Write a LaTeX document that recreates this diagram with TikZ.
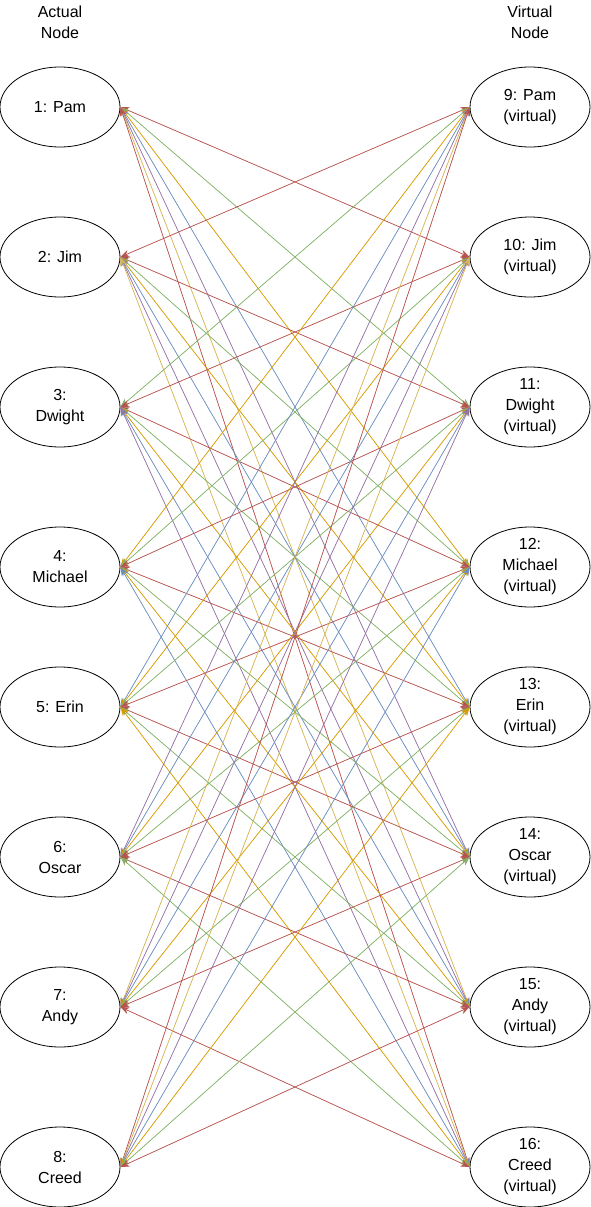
\documentclass[tikz,border=0pt]{standalone}
\usepackage{fontspec}
\setmainfont{Liberation Sans}
\usetikzlibrary{arrows.meta,shapes.geometric}
\definecolor{dred}{HTML}{B85450}
\definecolor{dgreen}{HTML}{82B366}
\definecolor{dorange}{HTML}{D79B00}
\definecolor{dblue}{HTML}{6C8EBF}
\definecolor{dpurple}{HTML}{9673A6}
\definecolor{dyellow}{HTML}{D6B656}
\tikzset{
    person/.style={ellipse, draw, line width=0.8pt, minimum width=120pt, minimum height=80pt,
        inner sep=0pt, align=center, font=\fontsize{16}{21}\selectfont},
    head/.style={align=center, font=\fontsize{16}{21}\selectfont},
    link/.style={line width=0.7pt, {Stealth[length=9pt,width=7pt]}-{Stealth[length=9pt,width=7pt]}},
    hop1/.style={link, draw=dred, fill=dred},
    hop2/.style={link, draw=dgreen, fill=dgreen},
    hop3/.style={link, draw=dorange, fill=dorange},
    hop4/.style={link, draw=dblue, fill=dblue},
    hop5/.style={link, draw=dpurple, fill=dpurple},
    hop6/.style={link, draw=dyellow, fill=dyellow},
    hop7/.style={link, draw=dred, fill=dred}
}
\begin{document}
\begin{tikzpicture}[x=1pt, y=-1pt]
        \useasboundingbox (0,0) rectangle (591,1207);
        \node[head](HL) at (60,22) {Actual\\Node};
        \node[head](HR) at (530,22) {Virtual\\Node};
        % actual nodes
        \node[person](L1) at (60,107)  {1: Pam};
        \node[person](L2) at (60,257)  {2: Jim};
        \node[person](L3) at (60,407)  {3:\\Dwight};
        \node[person](L4) at (60,567)  {4:\\Michael};
        \node[person](L5) at (60,707)  {5: Erin};
        \node[person](L6) at (60,857)  {6:\\Oscar};
        \node[person](L7) at (60,1007) {7:\\Andy};
        \node[person](L8) at (60,1167) {8:\\Creed};
        % virtual nodes
        \node[person](R9)  at (530,107)  {9: Pam\\(virtual)};
        \node[person](R10) at (530,257)  {10: Jim\\(virtual)};
        \node[person](R11) at (530,407)  {11:\\Dwight\\(virtual)};
        \node[person](R12) at (530,567)  {12:\\Michael\\(virtual)};
        \node[person](R13) at (530,707)  {13:\\Erin\\(virtual)};
        \node[person](R14) at (530,857)  {14:\\Oscar\\(virtual)};
        \node[person](R15) at (530,1007) {15:\\Andy\\(virtual)};
        \node[person](R16) at (530,1167) {16:\\Creed\\(virtual)};
        \path
            (L1.east)
                edge [hop1] (R10.west)
                edge [hop2] (R11.west)
                edge [hop3] (R12.west)
                edge [hop4] (R13.west)
                edge [hop5] (R14.west)
                edge [hop6] (R15.west)
                edge [hop7] (R16.west)
            (L2.east)
                edge [hop1] (R9.west)
                edge [hop1] (R11.west)
                edge [hop2] (R12.west)
                edge [hop3] (R13.west)
                edge [hop4] (R14.west)
                edge [hop5] (R15.west)
                edge [hop6] (R16.west)
            (L3.east)
                edge [hop2] (R9.west)
                edge [hop1] (R10.west)
                edge [hop1] (R12.west)
                edge [hop2] (R13.west)
                edge [hop3] (R14.west)
                edge [hop4] (R15.west)
                edge [hop5] (R16.west)
            (L4.east)
                edge [hop3] (R9.west)
                edge [hop2] (R10.west)
                edge [hop1] (R11.west)
                edge [hop1] (R13.west)
                edge [hop2] (R14.west)
                edge [hop3] (R15.west)
                edge [hop4] (R16.west)
            (L5.east)
                edge [hop4] (R9.west)
                edge [hop3] (R10.west)
                edge [hop2] (R11.west)
                edge [hop1] (R12.west)
                edge [hop1] (R14.west)
                edge [hop2] (R15.west)
                edge [hop3] (R16.west)
            (L6.east)
                edge [hop5] (R9.west)
                edge [hop4] (R10.west)
                edge [hop3] (R11.west)
                edge [hop2] (R12.west)
                edge [hop1] (R13.west)
                edge [hop1] (R15.west)
                edge [hop2] (R16.west)
            (L7.east)
                edge [hop6] (R9.west)
                edge [hop5] (R10.west)
                edge [hop4] (R11.west)
                edge [hop3] (R12.west)
                edge [hop2] (R13.west)
                edge [hop1] (R14.west)
                edge [hop1] (R16.west)
            (L8.east)
                edge [hop7] (R9.west)
                edge [hop6] (R10.west)
                edge [hop5] (R11.west)
                edge [hop4] (R12.west)
                edge [hop3] (R13.west)
                edge [hop2] (R14.west)
                edge [hop1] (R15.west)
            ;
    \end{tikzpicture}
\end{document}
